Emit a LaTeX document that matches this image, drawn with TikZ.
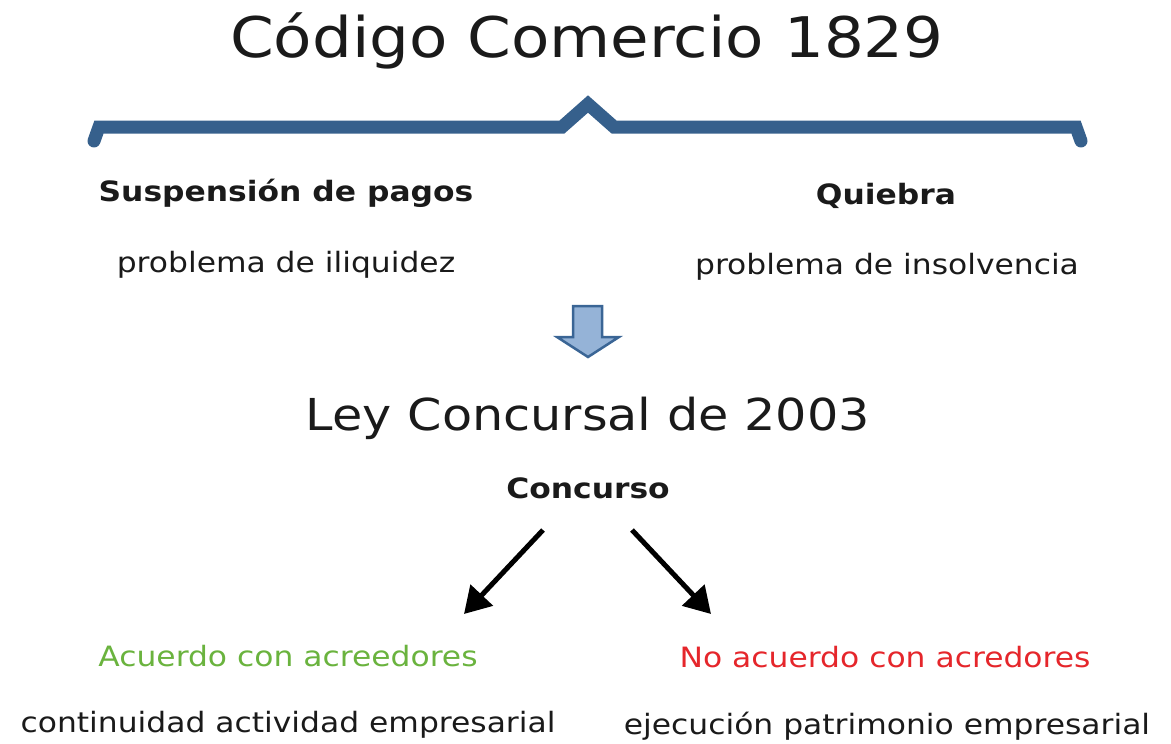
\documentclass[tikz,border=0pt]{standalone}
\usepackage{fontspec}
\setmainfont{DejaVu Sans}[FakeStretch=1.12]
\usetikzlibrary{arrows.meta}
\definecolor{braceblue}{HTML}{36608C}
\definecolor{arrfill}{HTML}{95B3D7}
\definecolor{arrline}{HTML}{3A6595}
\definecolor{txtgreen}{HTML}{6AB33E}
\definecolor{txtred}{HTML}{E5262B}
\definecolor{txt}{HTML}{1A1A1A}
\tikzset{
  title/.style={font=\fontsize{56}{62}\selectfont, text=txt, inner sep=0pt},
  subtitle/.style={font=\fontsize{44}{50}\selectfont, text=txt, inner sep=0pt},
  head/.style={font=\fontsize{28}{32}\selectfont\bfseries, text=txt, inner sep=0pt},
  body/.style={font=\fontsize{28}{32}\selectfont, text=txt, inner sep=0pt},
  arr/.style={line width=5pt, -{Triangle[length=26pt,width=30pt]}, black},
}
\begin{document}
\begin{tikzpicture}[x=1pt,y=-1pt]
\useasboundingbox (0,0) rectangle (1171,744);
% title
\node[title] (t) at (587,41) {Código Comercio 1829};
% brace
\draw[braceblue, line width=13pt, line cap=round, line join=miter]
  (94,141) -- (99,127) -- (562,127) -- (588,104) -- (614,127) -- (1076,127) -- (1081,141);
\node[head] (sp) at (286,193) {Suspensión de pagos};
\node[head] (qu) at (886,196) {Quiebra};
\node[body] (pi) at (286,265) {problema de iliquidez};
\node[body] (pn) at (887,267) {problema de insolvencia};
% block arrow
\draw[arrline, fill=arrfill, line width=2.5pt, line join=miter]
  (573,306) -- (602,306) -- (602,337) -- (619,337) -- (588,357) -- (557,337) -- (573,337) -- cycle;
\node[subtitle] (ley) at (588,418) {Ley Concursal de 2003};
\node[head] (co) at (588,488) {Concurso};
\coordinate (la) at (543,530);
\coordinate (lb) at (464,614);
\coordinate (ra) at (632,530);
\coordinate (rb) at (711,614);
\draw[arr] (la) -- (lb);
\draw[arr] (ra) -- (rb);
\node[body, text=txtgreen] (ac) at (288,656) {Acuerdo con acreedores};
\node[body, text=txtred] (na) at (885,657) {No acuerdo con acredores};
\node[body] (ca) at (288,725) {continuidad actividad empresarial};
\node[body] (ep) at (887,726) {ejecución patrimonio empresarial};
\end{tikzpicture}
\end{document}
